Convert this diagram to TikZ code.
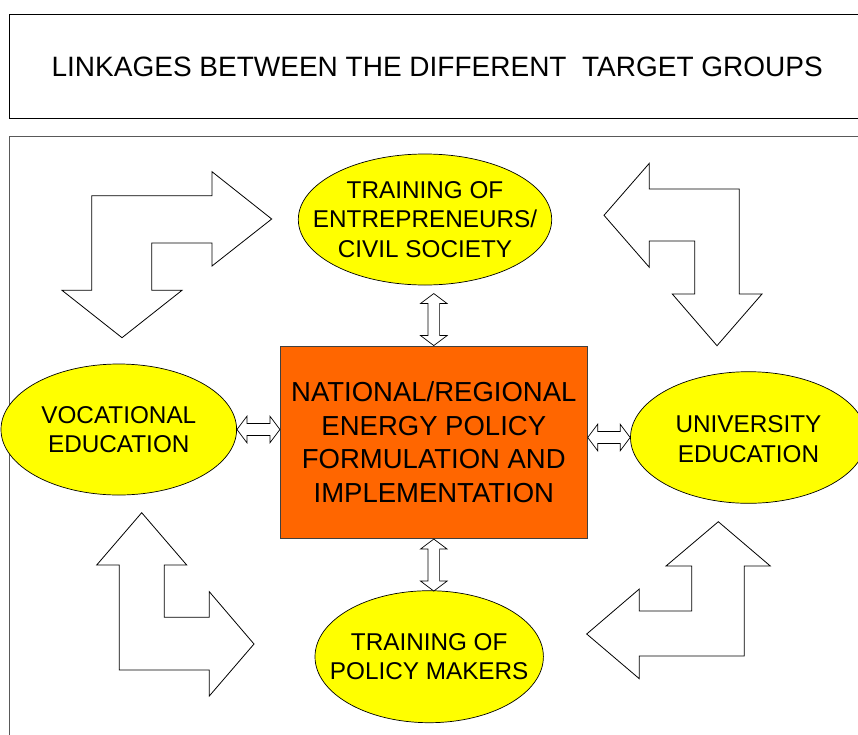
\documentclass[tikz,border=0pt]{standalone}
\usepackage{fontspec}
\setmainfont{Liberation Sans}
\usetikzlibrary{calc,shapes.geometric}
\definecolor{boxorange}{HTML}{FF6600}
\definecolor{ellyellow}{HTML}{FFFF00}
\tikzset{
  frame/.style={draw=black, line width=0.9pt},
  mainframe/.style={draw=black!65, line width=1.1pt},
  bentarrow/.style={draw=black, fill=white, line width=0.8pt, line join=miter},
  dblarrow/.style={draw=black, fill=white, line width=0.7pt, line join=miter},
  ell/.style={ellipse, draw=black, line width=0.7pt, fill=ellyellow, inner sep=0pt},
  elltext/.style={align=center, inner sep=0pt, font=\fontsize{24.3}{29.7}\selectfont},
  centerbox/.style={draw=black!75, line width=0.8pt, fill=boxorange, inner sep=0pt, align=center,
     font=\fontsize{27.5}{33.5}\selectfont}
}
\newcommand\vdarrow[2]{%
  \draw[dblarrow] (#1) -- ($(#1)+(13.3,10)$) -- ($(#1)+(5.8,10)$) -- ($(#2)+(5.8,-10)$)
    -- ($(#2)+(13.3,-10)$) -- (#2) -- ($(#2)+(-13.3,-10)$) -- ($(#2)+(-5.8,-10)$)
    -- ($(#1)+(-5.8,10)$) -- ($(#1)+(-13.3,10)$) -- cycle;}
\newcommand\hdarrow[2]{%
  \draw[dblarrow] (#1) -- ($(#1)+(10,-13.3)$) -- ($(#1)+(10,-6)$) -- ($(#2)+(-10,-6)$)
    -- ($(#2)+(-10,-13.3)$) -- (#2) -- ($(#2)+(-10,13.3)$) -- ($(#2)+(-10,6)$)
    -- ($(#1)+(10,6)$) -- ($(#1)+(10,13.3)$) -- cycle;}
\begin{document}
\begin{tikzpicture}[x=1pt,y=-1pt]
\useasboundingbox (0,0) rectangle (858,734);
\fill[white] (0,0) rectangle (858,734);
\clip (0,0) rectangle (858,734);

% title box
\draw[frame] (9.3,14.3) -- (875,14.3) (9.3,14.3) -- (9.3,118.3) -- (875,118.3);
\node[inner sep=0pt, font=\fontsize{28}{34}\selectfont] (title) at (437.2,66.5)
  {LINKAGES BETWEEN THE DIFFERENT\ \ TARGET GROUPS};

% main frame
\draw[mainframe] (9.3,745) -- (9.3,136.7) -- (875,136.7);

% bent arrows
\draw[bentarrow] (91.7,195.7) -- (212,195.7) -- (212,171.7) -- (271.7,219) -- (212,266)
  -- (212,243) -- (151.7,243) -- (151.7,290.3) -- (182,290.3) -- (122,337.7)
  -- (62,290.3) -- (91.7,290.3) -- cycle;
\draw[bentarrow] (604,215.3) -- (649.3,163.3) -- (649.3,189) -- (739.3,189) -- (739.3,294)
  -- (762,294) -- (717,345.7) -- (672.3,294) -- (694.7,294) -- (694.7,241)
  -- (649.3,241) -- (649.3,267.3) -- cycle;
\draw[bentarrow] (141.7,512.7) -- (186.7,565) -- (164.3,565) -- (164.3,617.3) -- (209.3,617.3)
  -- (209.3,591.7) -- (254,644) -- (209.3,696) -- (209.3,670) -- (119.3,670)
  -- (119.3,565) -- (96.7,565) -- cycle;
\draw[bentarrow] (718.3,521.7) -- (770.3,566) -- (744.3,566) -- (744.3,656) -- (639.3,656)
  -- (639.3,678.7) -- (586.7,634) -- (639.3,589) -- (639.3,611) -- (691.7,611)
  -- (691.7,566) -- (666,566) -- cycle;

% ellipses
\node[ell, minimum width=253.4pt, minimum height=131pt] (etop) at (425,219.5) {};
\node[elltext] at (etop.center) {TRAINING OF\\ENTREPRENEURS/\\CIVIL SOCIETY};
\node[ell, minimum width=235.6pt, minimum height=131pt] (eleft) at (118.8,429.5) {};
\node[elltext] at (eleft.center) {VOCATIONAL\\EDUCATION};
\node[ell, minimum width=236pt, minimum height=131.6pt] (eright) at (748.5,437.5) {};
\node[elltext] at ([yshift=-1.5pt]eright.center) {UNIVERSITY\\EDUCATION};
\node[ell, minimum width=228.4pt, minimum height=132pt] (ebot) at (429.2,656.7) {};
\node[elltext] at (ebot.center) {TRAINING OF\\POLICY MAKERS};

% center box
\node[centerbox, minimum width=307pt, minimum height=192.7pt] (cnt) at (433.8,442.3)
  {NATIONAL/REGIONAL\\ENERGY POLICY\\FORMULATION AND\\IMPLEMENTATION};

% double arrows
\coordinate (ta) at ($(cnt.north)+(0,-52)$);
\vdarrow{ta}{cnt.north}
\coordinate (ba) at ($(cnt.south)+(0,52)$);
\vdarrow{cnt.south}{ba}
\coordinate (la) at (eleft.east -| cnt.west);
\hdarrow{eleft.east}{la}
\coordinate (ra) at (eright.west -| cnt.east);
\hdarrow{ra}{eright.west}
\end{tikzpicture}
\end{document}
